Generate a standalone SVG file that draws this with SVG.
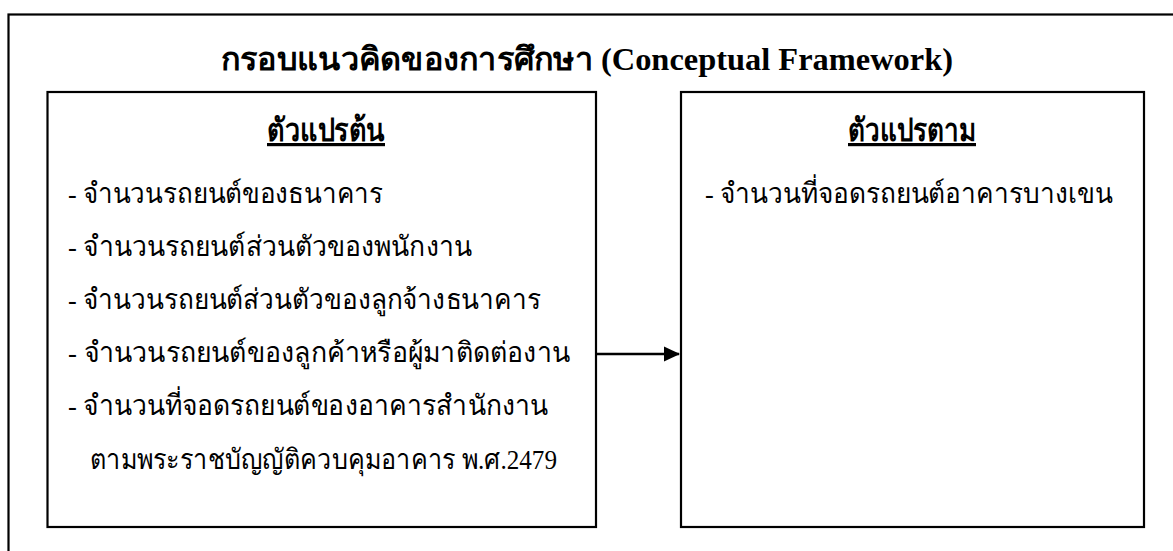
<svg xmlns="http://www.w3.org/2000/svg" width="1173" height="551" viewBox="0 0 1173 551">
<style>
.box{fill:#fff;stroke:#000;stroke-width:2.2}
.t{font-family:"Liberation Serif","Noto Sans",serif;font-size:28px;fill:#000}
.h{font-family:"Liberation Serif","Noto Sans",serif;font-size:32px;font-weight:bold;fill:#000}
.u{text-decoration:underline}
</style>
<defs>
<marker id="ah" markerWidth="16" markerHeight="16" refX="15" refY="8" orient="auto" markerUnits="userSpaceOnUse">
<path d="M0,0.5 L16,8 L0,15.5 z" fill="#000"/>
</marker>
</defs>
<rect width="1173" height="551" fill="#fff"/>
<g id="frame">
<rect class="box" x="8.5" y="14.5" width="1180" height="560"/>
<text class="h" x="221" y="70" textLength="732" lengthAdjust="spacingAndGlyphs">กรอบแนวคิดของการศึกษา (Conceptual Framework)</text>
</g>
<g id="independent">
<rect class="box" x="47.5" y="92" width="548.5" height="435"/>
<text class="h u" x="267" y="141" textLength="118" lengthAdjust="spacingAndGlyphs">ตัวแปรต้น</text>
<text class="t" x="68" y="203" textLength="315" lengthAdjust="spacingAndGlyphs">- จำนวนรถยนต์ของธนาคาร</text>
<text class="t" x="68" y="256" textLength="404" lengthAdjust="spacingAndGlyphs">- จำนวนรถยนต์ส่วนตัวของพนักงาน</text>
<text class="t" x="68" y="309" textLength="473" lengthAdjust="spacingAndGlyphs">- จำนวนรถยนต์ส่วนตัวของลูกจ้างธนาคาร</text>
<text class="t" x="68" y="362" textLength="502" lengthAdjust="spacingAndGlyphs">- จำนวนรถยนต์ของลูกค้าหรือผู้มาติดต่องาน</text>
<text class="t" x="68" y="415" textLength="480" lengthAdjust="spacingAndGlyphs">- จำนวนที่จอดรถยนต์ของอาคารสำนักงาน</text>
<text class="t" x="90" y="469" textLength="467" lengthAdjust="spacingAndGlyphs">ตามพระราชบัญญัติควบคุมอาคาร พ.ศ.2479</text>
</g>
<g id="dependent">
<rect class="box" x="681" y="92" width="463" height="435"/>
<text class="h u" x="848" y="141" textLength="128" lengthAdjust="spacingAndGlyphs">ตัวแปรตาม</text>
<text class="t" x="705" y="203" textLength="408" lengthAdjust="spacingAndGlyphs">- จำนวนที่จอดรถยนต์อาคารบางเขน</text>
</g>
<g id="connectors">
<line x1="597" y1="354" x2="679" y2="354" stroke="#000" stroke-width="2.5" marker-end="url(#ah)"/>
</g>
</svg>
